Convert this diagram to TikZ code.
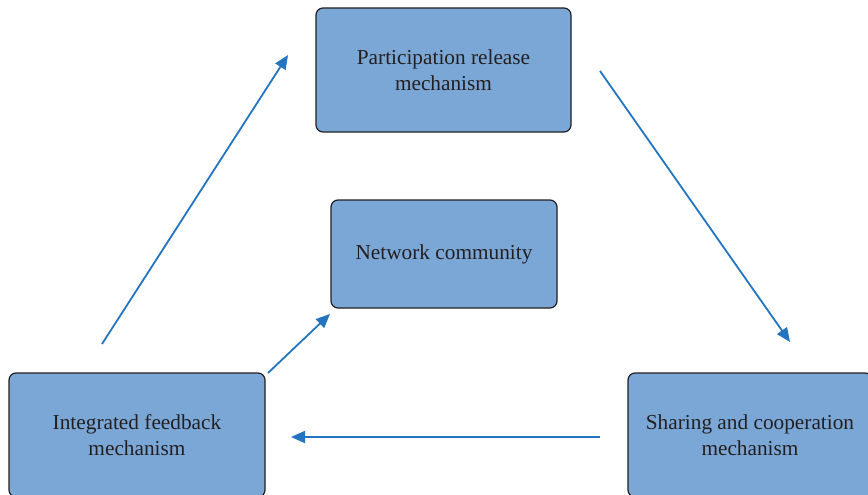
\documentclass[tikz,border=0pt]{standalone}
\usepackage{fontspec}
\setmainfont{Liberation Serif}
\usetikzlibrary{arrows.meta}
\definecolor{boxfill}{HTML}{7BA7D7}
\definecolor{boxline}{HTML}{231F20}
\definecolor{arrowblue}{HTML}{2474BF}
\definecolor{txt}{HTML}{231F20}
\begin{document}
\begin{tikzpicture}[x=1pt,y=-1pt,
  mbox/.style={draw=boxline, line width=1.2pt, fill=boxfill, rounded corners=7pt,
    inner sep=0pt, align=center, text=txt,
    font=\fontsize{21.3}{25.5}\selectfont},
  flow/.style={draw=arrowblue, line width=1.8pt, -{Triangle[length=14pt,width=12pt]}}]
\useasboundingbox (0,0) rectangle (868,495);
\node[mbox, minimum width=255pt, minimum height=124pt] (part) at (443.5,70) {Participation release\\mechanism};
\node[mbox, minimum width=226pt, minimum height=108pt] (net) at (444,254) {Network community};
\node[mbox, minimum width=256pt, minimum height=124pt] (integ) at (137,435) {Integrated feedback\\mechanism};
\node[mbox, minimum width=244pt, minimum height=124pt] (share) at (750,435) {Sharing and cooperation\\mechanism};
\coordinate (a1s) at (102,344);
\coordinate (a1e) at (288,55);
\coordinate (a2s) at (600,71);
\coordinate (a2e) at (790,342);
\coordinate (a3s) at (600,437);
\coordinate (a3e) at (291,437);
\coordinate (a4s) at (268,373);
\coordinate (a4e) at (330,314);
\draw[flow] (a1s) -- (a1e);
\draw[flow] (a2s) -- (a2e);
\draw[flow] (a3s) -- (a3e);
\draw[flow] (a4s) -- (a4e);
\end{tikzpicture}
\end{document}
